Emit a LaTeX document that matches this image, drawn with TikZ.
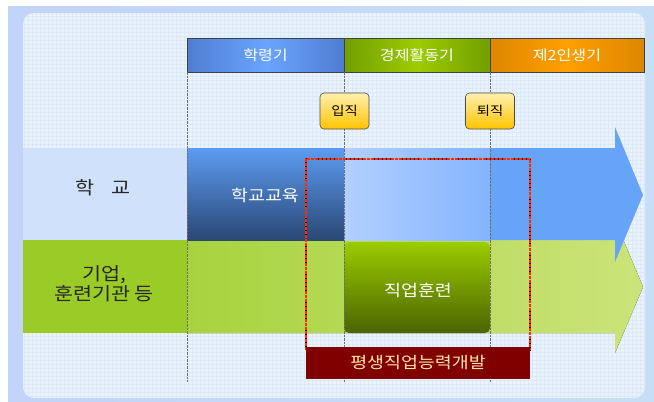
\documentclass[tikz,border=0pt]{standalone}
\usepackage{fontspec}
\setmainfont{Noto Sans CJK KR}
\newfontfamily\kr[FakeStretch=1.15]{Noto Sans CJK KR}
\definecolor{outerbg}{HTML}{C6DFF6}
\definecolor{panelbg}{HTML}{EAF3FD}
\definecolor{gridc}{HTML}{DCE9F7}
\definecolor{hblueA}{HTML}{4E7ED0}
\definecolor{hblueB}{HTML}{6AA4FF}
\definecolor{hgreenA}{HTML}{729E00}
\definecolor{hgreenB}{HTML}{9CCC00}
\definecolor{horA}{HTML}{DD8600}
\definecolor{horB}{HTML}{FFA000}
\definecolor{yelA}{HTML}{FFF0B0}
\definecolor{yelB}{HTML}{FFC400}
\definecolor{bandblue}{HTML}{66A4F8}
\definecolor{paleblue}{HTML}{D0E2FB}
\definecolor{lightblueA}{HTML}{B2D0FF}
\definecolor{lightblueB}{HTML}{84B4FF}
\definecolor{schoolTop}{HTML}{5C9CF2}
\definecolor{schoolBot}{HTML}{2A4774}
\definecolor{greenL}{HTML}{9ACB26}
\definecolor{greenA}{HTML}{A8D33E}
\definecolor{greenB}{HTML}{CBE47A}
\definecolor{jobTop}{HTML}{9CCC00}
\definecolor{jobBot}{HTML}{4A6400}
\definecolor{darkred}{HTML}{800000}
\definecolor{beige}{HTML}{FFE7A8}
\definecolor{vline}{HTML}{6E6E6E}
\definecolor{framered}{HTML}{FF2A00}
\begin{document}
\begin{tikzpicture}[x=1pt,y=-1pt,
  header/.style={draw=black!75, line width=0.6pt, minimum height=34pt, inner sep=0pt, text=white, font=\kr\fontsize{14}{16}\selectfont},
  tag/.style={draw=black!70, line width=0.6pt, rounded corners=4pt, minimum width=49pt, minimum height=36pt, inner sep=0pt, top color=yelA, bottom color=yelB, font=\kr\fontsize{12.5}{14}\selectfont},
  sidelabel/.style={text=black!85, align=center, font=\kr\fontsize{18}{20}\selectfont},
  innerlabel/.style={text=white, font=\kr\fontsize{16}{18}\selectfont},
  divider/.style={vline, line width=0.7pt, dash pattern=on 2.5pt off 1pt},
]
\useasboundingbox (0,0) rectangle (654,402);
\fill[white] (0,0) rectangle (654,402);
\shade[left color=outerbg!90!blue!80!white, right color=outerbg] (8,6) rectangle (654,402);
\fill[panelbg, rounded corners=11pt] (23,13) rectangle (645,398);
\begin{scope}
  \clip[rounded corners=11pt] (23,13) rectangle (645,398);
  \draw[gridc, line width=0.25pt, step=4pt] (23,13) grid (645,398);
\end{scope}

% header bars
\node[header, minimum width=157pt, left color=hblueA, right color=hblueA, middle color=hblueB] (hak) at (265.5,55) {학령기};
\node[header, minimum width=146pt, left color=hgreenA, right color=hgreenA, middle color=hgreenB] (econ) at (417,55) {경제활동기};
\node[header, minimum width=154pt, left color=horA, right color=horA, middle color=horB] (second) at (567,55) {제2인생기};

% green band (기업)
\fill[left color=greenA, right color=greenB] (187,240) -- (615,240) -- (615,220) -- (643,287) -- (615,353) -- (615,333) -- (187,333) -- cycle;
\fill[greenL] (23,240) rectangle (187,333);
% blue band (학교)
\fill[bandblue] (187,148) -- (615,148) -- (615,127) -- (643,195) -- (615,262) -- (615,240) -- (187,240) -- cycle;
\fill[paleblue] (23,148) rectangle (187,240);
\shade[left color=lightblueA, right color=lightblueB] (344,148) rectangle (490,240);

\node[sidelabel] (school) at (103,188) {학\hspace{0.9em}교};
\node[sidelabel] (corp) at (104,284) {기업,\\훈련기관 등};

\node[minimum width=157pt, minimum height=92pt, inner sep=0pt, top color=schoolTop, bottom color=schoolBot] (schoolbox) at (265.5,194) {};
\node[innerlabel] (schooltxt) at (265,195) {학교교육};

\node[minimum width=146pt, minimum height=91pt, inner sep=0pt, rounded corners=5pt, top color=jobTop, bottom color=jobBot] (jobbox) at (417,287.5) {};
\node[innerlabel] (jobtxt) at (418,290) {직업훈련};

% dividers
\coordinate (d1a) at (187,72); \coordinate (d1b) at (187,382);
\coordinate (d2a) at (344,72); \coordinate (d2b) at (344,382);
\coordinate (d3a) at (490,72); \coordinate (d3b) at (490,382);
\draw[divider] (d1a) -- (d1b);
\draw[divider] (d2a) -- (d2b);
\draw[divider] (d3a) -- (d3b);

% tags
\node[tag] (ipjik) at (344.5,111) {입직};
\node[tag] (toejik) at (490,111) {퇴직};

% dotted frame
\coordinate (f1) at (306,350); \coordinate (f2) at (306,159);
\coordinate (f3) at (530,159); \coordinate (f4) at (530,350);
\draw[black, line width=2.2pt, dash pattern=on 2.5pt off 1pt, xshift=0.9pt, yshift=0.9pt] (f1) -- (f2) -- (f3) -- (f4);
\draw[framered, line width=2.2pt, dash pattern=on 3pt off 1pt] (f1) -- (f2) -- (f3) -- (f4);

\node[minimum width=224pt, minimum height=32pt, inner sep=0pt, fill=darkred, text=beige, font=\kr\fontsize{16}{18}\selectfont] (lifelong) at (418,363) {평생직업능력개발};
\end{tikzpicture}
\end{document}
